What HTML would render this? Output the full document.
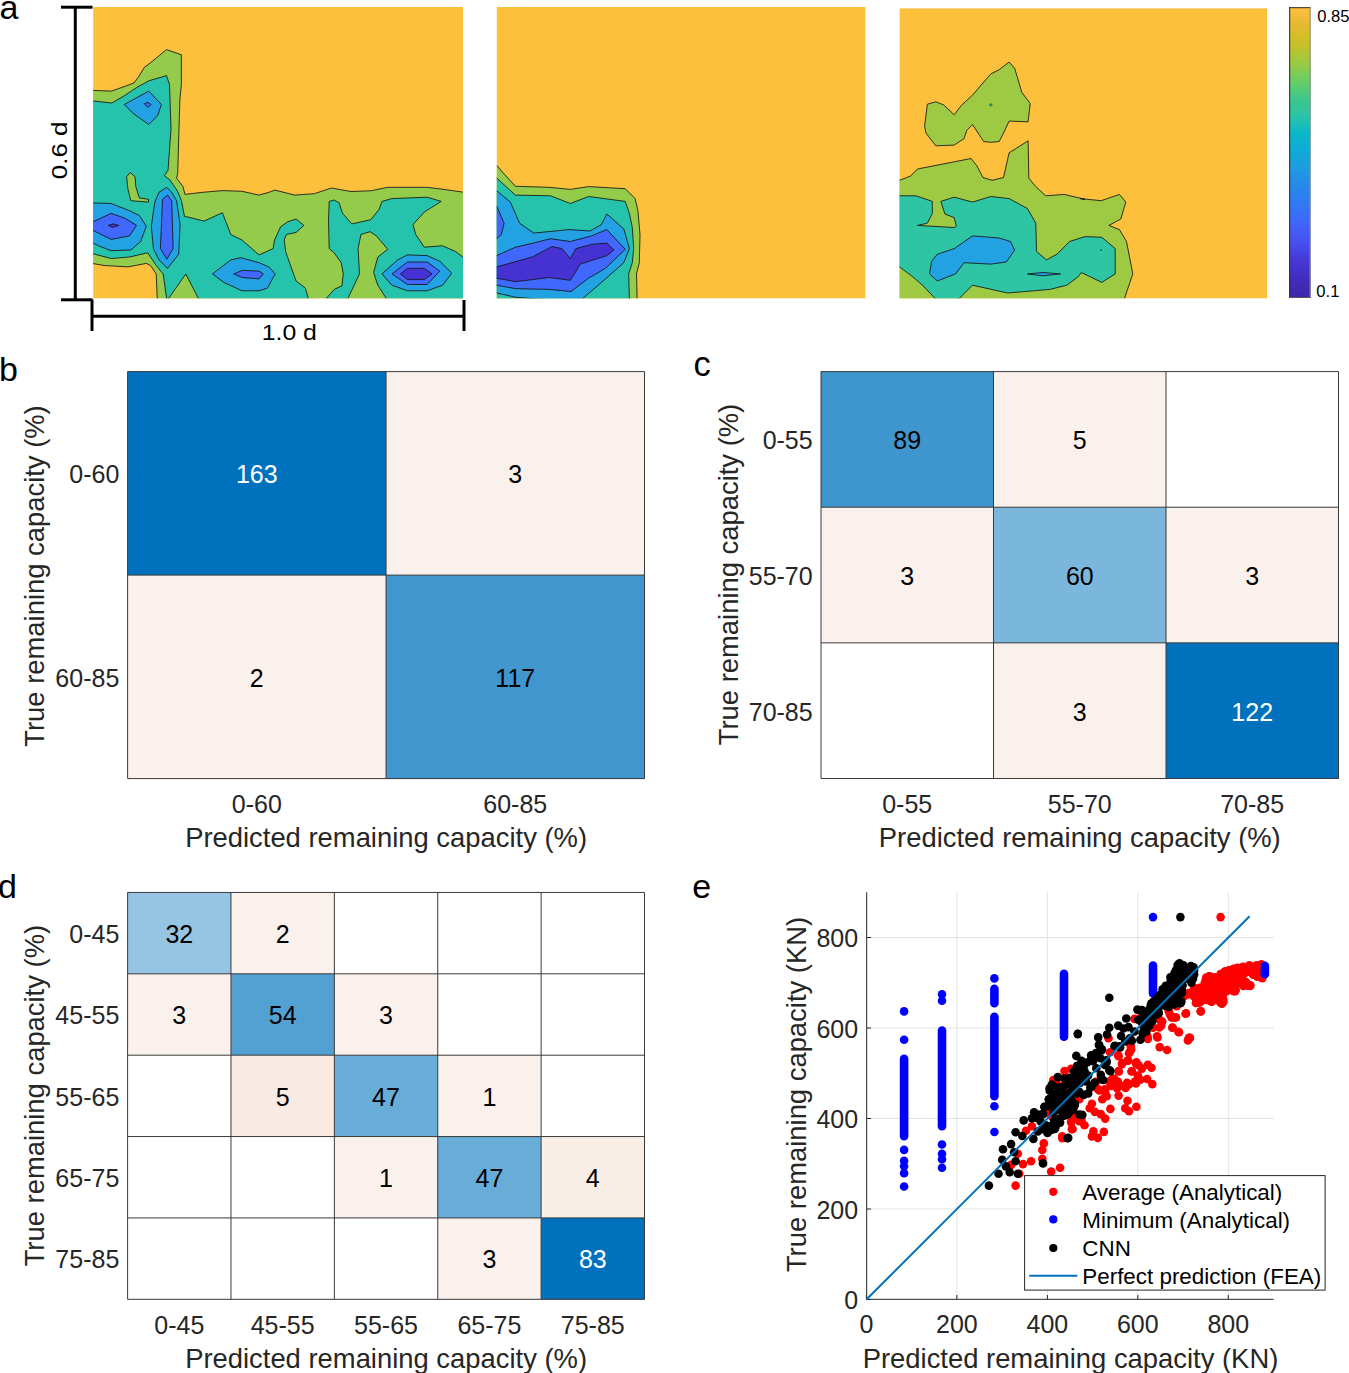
<!DOCTYPE html>
<html><head><meta charset="utf-8"><style>
html,body{margin:0;padding:0;background:#fff;}
svg{display:block;}
text{font-family:"Liberation Sans", sans-serif;}
</style></head><body>
<svg width="1349" height="1373" viewBox="0 0 1349 1373" font-family='"Liberation Sans", sans-serif'>
<rect width="1349" height="1373" fill="#fff"/>
<clipPath id="c1"><rect x="93.2" y="7.0" width="369.8" height="291.3"/></clipPath>
<rect x="93.2" y="7.0" width="369.8" height="291.3" fill="#fcc03c"/>
<g clip-path="url(#c1)">
<polygon points="92.0,90.4 111.7,91.1 133.9,83.0 138.4,77.1 144.3,67.4 150.2,63.0 166.5,49.6 181.4,54.8 181.4,84.5 179.9,99.3 177.7,173.4 176.6,178.2 183.0,186.6 185.0,194.4 202.7,192.3 222.4,190.6 242.1,191.3 259.0,195.1 268.9,192.3 275.0,190.1 294.7,195.1 314.4,193.7 331.3,188.0 351.0,191.5 370.8,190.8 387.7,187.3 427.1,187.3 444.0,189.4 464.0,192.3 464.0,300.0 157.3,300.0 156.2,274.0 150.6,265.5 146.3,263.4 128.0,266.9 104.0,265.5 92.0,263.4" fill="#94cb4a" stroke="#141414" stroke-width="0.85" stroke-linejoin="round" />
<polygon points="92.0,100.8 111.7,103.0 123.5,96.3 136.9,87.4 148.8,80.8 166.5,75.6 169.5,84.5 171.0,129.0 168.0,170.5 164.3,175.7 169.6,179.6 177.3,190.8 181.5,200.7 184.4,216.2 204.1,221.1 222.4,212.7 230.8,234.5 242.1,240.1 259.0,254.9 273.1,248.6 274.5,240.1 280.6,226.8 287.7,221.8 296.1,219.0 303.9,225.4 296.1,232.4 286.3,234.5 284.2,240.1 285.6,251.4 290.5,265.5 296.1,281.0 305.3,288.0 308.8,300.0 199.2,300.0 185.8,274.0 167.5,300.0 166.8,300.0 163.2,274.0 156.2,265.5 147.7,252.8 129.4,257.0 111.1,258.5 92.0,253.5" fill="#26c3ac" stroke="#141414" stroke-width="0.85" stroke-linejoin="round" />
<polygon points="126.6,176.8 130.1,172.5 135.1,176.8 135.8,186.6 139.3,197.9 148.5,199.3 148.5,202.1 130.8,200.7 128.0,189.4" fill="#94cb4a" stroke="#141414" stroke-width="0.85" stroke-linejoin="round" />
<polygon points="329.2,201.4 334.2,200.0 339.1,202.8 342.6,213.4 351.8,223.9 370.8,219.7 379.2,209.2 382.0,201.4 391.9,198.6 427.1,197.2 441.2,201.4 424.3,212.0 413.0,224.6 415.8,234.5 424.3,247.2 442.6,245.8 455.3,251.4 463.0,257.0 464.4,257.0 464.4,300.7 387.7,300.7 377.8,285.2 373.6,272.5 377.8,257.0 387.7,249.3 376.4,235.9 370.1,231.7 360.9,234.5 358.1,248.6 359.5,273.9 346.8,300.7 324.3,300.7 334.2,289.4 341.9,285.9 343.3,273.9 341.2,262.7 334.2,252.8 329.2,248.6 328.5,220.4" fill="#26c3ac" stroke="#141414" stroke-width="0.85" stroke-linejoin="round" />
<polygon points="90.0,202.8 111.1,203.5 129.4,210.6 139.3,215.5 146.3,226.1 140.7,241.5 130.8,250.0 111.1,250.7 98.5,245.8 90.0,241.5" fill="#22a2e3" stroke="#141414" stroke-width="0.85" stroke-linejoin="round" />
<polygon points="166.8,187.3 171.7,192.3 176.6,200.7 180.1,224.6 178.7,254.2 167.5,268.3 159.0,259.9 153.4,248.6 151.3,226.1 154.8,202.1 159.0,192.3" fill="#22a2e3" stroke="#141414" stroke-width="0.85" stroke-linejoin="round" />
<polygon points="212.5,273.9 230.8,259.9 240.7,257.7 259.0,262.7 268.9,266.9 275.2,273.9 267.5,288.0 259.0,290.8 242.1,290.8 223.8,282.4" fill="#22a2e3" stroke="#141414" stroke-width="0.85" stroke-linejoin="round" />
<polygon points="124.3,104.5 148.8,91.1 161.4,104.5 157.6,115.6 148.8,124.5 133.9,114.1" fill="#22a2e3" stroke="#141414" stroke-width="0.85" stroke-linejoin="round" />
<polygon points="382.0,273.9 397.5,259.9 407.4,254.9 427.1,255.6 439.8,261.3 451.8,273.2 442.6,285.2 427.1,290.8 407.4,290.8 391.9,285.2" fill="#22a2e3" stroke="#141414" stroke-width="0.85" stroke-linejoin="round" />
<polygon points="90.0,223.2 111.1,213.4 125.2,218.3 136.5,225.4 129.4,235.9 111.1,239.4 90.0,228.9" fill="#4068fc" stroke="#141414" stroke-width="0.85" stroke-linejoin="round" />
<polygon points="167.5,195.1 171.7,200.7 173.1,248.6 166.8,259.2 160.4,248.6 162.5,199.3" fill="#4068fc" stroke="#141414" stroke-width="0.85" stroke-linejoin="round" />
<polygon points="233.7,273.9 242.1,270.4 259.0,271.1 263.2,273.9 259.0,278.9 242.1,277.5" fill="#4068fc" stroke="#141414" stroke-width="0.85" stroke-linejoin="round" />
<polygon points="144.3,103.8 148.0,102.3 151.0,104.5 148.0,107.5" fill="#4068fc" stroke="#141414" stroke-width="0.85" stroke-linejoin="round" />
<polygon points="391.9,273.9 407.4,262.0 427.1,262.0 439.8,271.1 427.1,284.5 407.4,284.5" fill="#4068fc" stroke="#141414" stroke-width="0.85" stroke-linejoin="round" />
<polygon points="108.3,225.4 113.2,223.9 118.9,225.4 112.5,227.5" fill="#4632d2" stroke="#141414" stroke-width="0.85" stroke-linejoin="round" />
<polygon points="400.4,273.9 407.4,268.3 424.3,268.3 432.0,273.9 424.3,279.6 407.4,279.6" fill="#4632d2" stroke="#141414" stroke-width="0.85" stroke-linejoin="round" />
</g>
<clipPath id="c2"><rect x="496.8" y="7.0" width="368.59999999999997" height="291.3"/></clipPath>
<rect x="496.8" y="7.0" width="368.59999999999997" height="291.3" fill="#fcc03c"/>
<g clip-path="url(#c2)">
<polygon points="494.2,165.5 496.8,165.5 504.1,173.9 515.4,186.3 549.2,187.3 570.3,189.4 588.6,186.6 625.2,188.7 635.1,198.6 637.9,210.6 640.0,234.5 639.3,262.7 636.5,273.9 637.2,300.7 494.2,300.7" fill="#94cb4a" stroke="#141414" stroke-width="0.85" stroke-linejoin="round" />
<polygon points="494.2,178.2 496.8,178.2 515.4,195.1 550.6,195.8 570.3,203.5 588.6,196.5 625.2,201.4 629.4,213.4 632.3,227.5 633.7,248.6 632.3,262.7 628.7,273.9 629.4,300.7 494.2,300.7" fill="#26c3ac" stroke="#141414" stroke-width="0.85" stroke-linejoin="round" />
<polygon points="494.2,190.8 496.8,190.8 510.4,202.1 519.6,223.2 533.7,233.1 568.9,229.6 590.0,231.0 601.3,224.6 606.9,214.1 623.8,228.9 629.4,248.6 623.8,262.7 599.9,283.8 580.1,300.7 540.7,299.3 515.4,297.2 496.8,293.0 494.2,293.0" fill="#22a2e3" stroke="#141414" stroke-width="0.85" stroke-linejoin="round" />
<polygon points="494.2,255.6 496.8,255.6 515.4,247.2 533.7,243.0 550.6,238.7 570.3,241.5 591.4,235.9 606.9,229.6 625.2,249.3 605.5,268.3 588.6,278.2 571.0,291.5 549.2,289.4 515.4,288.7 496.8,285.2 494.2,285.2" fill="#4068fc" stroke="#141414" stroke-width="0.85" stroke-linejoin="round" />
<polygon points="494.2,206.3 496.8,206.3 504.1,223.2 501.3,234.5 496.8,238.7 494.2,238.7" fill="#4068fc" stroke="#141414" stroke-width="0.85" stroke-linejoin="round" />
<polygon points="494.2,266.9 496.8,266.9 532.3,257.0 552.0,246.5 561.8,248.6 570.3,258.5 575.9,248.6 591.4,244.4 606.9,243.0 613.9,250.0 606.9,255.6 580.1,264.1 574.5,273.9 570.3,280.3 549.2,277.5 515.4,281.7 496.8,278.2 494.2,278.2" fill="#4632d2" stroke="#141414" stroke-width="0.85" stroke-linejoin="round" />
</g>
<clipPath id="c3"><rect x="899.6" y="8.4" width="367.4" height="289.90000000000003"/></clipPath>
<rect x="899.6" y="8.4" width="367.4" height="289.90000000000003" fill="#fcc03c"/>
<g clip-path="url(#c3)">
<polygon points="927.4,104.2 935.8,101.8 943.6,104.9 954.2,114.8 961.2,105.6 972.5,95.1 990.8,73.9 999.2,69.7 1009.1,62.0 1014.7,68.3 1021.8,92.3 1030.2,103.5 1028.1,121.8 1009.1,121.1 1003.5,133.1 999.2,141.5 990.8,142.3 983.7,141.5 972.5,124.6 966.8,130.3 964.0,138.7 954.2,145.1 935.8,145.8 926.0,133.1 924.6,126.1" fill="#9dc943" stroke="#141414" stroke-width="0.85" stroke-linejoin="round" />
<circle cx="990.8" cy="104.9" r="1.2" fill="#2ec5a4" stroke="#1e1e1e" stroke-width="0.5"/>
<polygon points="895.0,180.3 899.6,180.3 910.5,176.1 917.5,169.0 971.1,158.5 976.7,165.5 983.0,177.5 992.2,180.3 1003.5,177.5 1009.1,152.8 1028.1,140.8 1028.8,178.2 1035.8,186.6 1045.7,195.8 1064.0,194.4 1085.0,199.3 1080.0,198.6 1101.1,200.7 1119.4,194.4 1125.8,202.1 1120.8,219.0 1108.9,225.4 1119.4,229.6 1126.5,241.5 1132.8,273.9 1123.7,300.7 890.0,300.0" fill="#9dc943" stroke="#141414" stroke-width="0.85" stroke-linejoin="round" />
<polygon points="895.0,195.8 899.6,195.8 916.1,195.8 932.3,201.4 932.3,213.4 927.4,223.2 917.5,225.4 954.2,227.5 956.3,226.1 954.2,217.6 945.0,214.1 940.8,201.4 954.2,197.2 972.5,202.1 990.8,196.5 1009.1,198.6 1027.4,208.5 1035.8,223.2 1036.5,251.4 1046.4,259.9 1057.0,254.2 1069.6,241.5 1085.0,236.6 1101.8,237.3 1115.2,248.6 1115.2,273.9 1101.8,282.4 1081.4,272.5 1078.1,276.8 1066.8,285.2 1049.9,289.4 1007.7,293.0 972.5,285.2 957.0,300.7 937.3,300.7 922.5,285.2 911.9,276.1 899.6,266.9 895.0,266.9" fill="#2ec5a4" stroke="#141414" stroke-width="0.85" stroke-linejoin="round" />
<polygon points="931.6,261.3 937.3,254.2 954.2,248.6 972.5,235.9 999.2,238.0 1010.5,241.5 1014.7,250.0 1006.3,262.0 990.8,264.1 964.0,262.7 955.6,273.9 937.3,281.0 929.5,273.9" fill="#22a2e3" stroke="#141414" stroke-width="0.85" stroke-linejoin="round" />
<polygon points="1027.4,273.9 1042.9,272.5 1060.5,273.9 1042.9,275.8" fill="#22a2e3" stroke="#141414" stroke-width="0.85" stroke-linejoin="round" />
<circle cx="1101.1" cy="250.3" r="0.8" fill="#1e1e1e"/>
</g>
<linearGradient id="cb" x1="0" y1="1" x2="0" y2="0"><stop offset="0.002" stop-color="#3e26a8"/><stop offset="0.064" stop-color="#412dbe"/><stop offset="0.129" stop-color="#4637d7"/><stop offset="0.191" stop-color="#4650f0"/><stop offset="0.253" stop-color="#4164fa"/><stop offset="0.316" stop-color="#3278f5"/><stop offset="0.381" stop-color="#2887eb"/><stop offset="0.443" stop-color="#1e9be1"/><stop offset="0.505" stop-color="#0faad7"/><stop offset="0.567" stop-color="#0ab9c8"/><stop offset="0.629" stop-color="#2dc3a5"/><stop offset="0.681" stop-color="#3cc88c"/><stop offset="0.733" stop-color="#5fcd6e"/><stop offset="0.767" stop-color="#78cd5a"/><stop offset="0.802" stop-color="#96ca46"/><stop offset="0.836" stop-color="#afc637"/><stop offset="0.871" stop-color="#c8c028"/><stop offset="0.905" stop-color="#d7be28"/><stop offset="0.940" stop-color="#e6b932"/><stop offset="0.974" stop-color="#f5bc3a"/><stop offset="1.000" stop-color="#fcc03c"/></linearGradient>
<rect x="1289.2" y="7.2" width="21.4" height="290.8" fill="url(#cb)"/>
<g stroke-width="1" fill="none"><line x1="1289.7" y1="7.2" x2="1289.7" y2="298" stroke="#2a2a2a"/><line x1="1289.2" y1="7.7" x2="1310.6" y2="7.7" stroke="#2a2a2a"/><line x1="1310.1" y1="7.2" x2="1310.1" y2="298" stroke="#8a8a8a"/><line x1="1289.2" y1="297.5" x2="1310.6" y2="297.5" stroke="#555"/></g>
<text x="1317.2" y="22.4" font-size="16.6" text-anchor="start" fill="#000" >0.85</text>
<text x="1316.3" y="296.6" font-size="16.6" text-anchor="start" fill="#000" >0.1</text>
<g stroke="#000" stroke-width="3" fill="none"><line x1="75.3" y1="7" x2="75.3" y2="300"/><line x1="61" y1="7.2" x2="92.5" y2="7.2"/><line x1="61" y1="299.8" x2="92.5" y2="299.8"/><line x1="92" y1="316.3" x2="464" y2="316.3"/><line x1="92" y1="299.5" x2="92" y2="331"/><line x1="464" y1="300" x2="464" y2="331"/></g>
<text x="289.3" y="340.0" font-size="22.3" text-anchor="middle" fill="#000" textLength="55.2" lengthAdjust="spacingAndGlyphs">1.0 d</text>
<text transform="translate(66.5,150.4) rotate(-90)" x="0" y="0" font-size="22.3" text-anchor="middle" textLength="57.6" lengthAdjust="spacingAndGlyphs">0.6 d</text>
<text x="-0.5" y="18.8" font-size="34" text-anchor="start" fill="#000" >a</text>
<text x="-1.1" y="380.7" font-size="34" text-anchor="start" fill="#000" >b</text>
<text x="693.5" y="376.2" font-size="34.5" text-anchor="start" fill="#000" >c</text>
<text x="-2.0" y="898.3" font-size="34" text-anchor="start" fill="#000" >d</text>
<text x="692.3" y="898.0" font-size="34" text-anchor="start" fill="#000" >e</text>
<rect x="127.60" y="371.60" width="258.75" height="203.80" fill="#0072bd"/>
<rect x="386.05" y="371.60" width="258.75" height="203.80" fill="#faf1ed"/>
<rect x="127.60" y="575.10" width="258.75" height="203.80" fill="#faf1ed"/>
<rect x="386.05" y="575.10" width="258.75" height="203.80" fill="#4296ce"/>
<g stroke="#3a3a3a" stroke-width="1"><line x1="127.60" y1="371.6" x2="127.60" y2="778.6"/><line x1="127.6" y1="371.60" x2="644.5" y2="371.60"/><line x1="386.05" y1="371.6" x2="386.05" y2="778.6"/><line x1="127.6" y1="575.10" x2="644.5" y2="575.10"/><line x1="644.50" y1="371.6" x2="644.50" y2="778.6"/><line x1="127.6" y1="778.60" x2="644.5" y2="778.60"/></g>
<text x="256.8" y="483.2" font-size="25" text-anchor="middle" fill="#ffffff" >163</text>
<text x="515.3" y="483.2" font-size="25" text-anchor="middle" fill="#000" >3</text>
<text x="256.8" y="686.6" font-size="25" text-anchor="middle" fill="#000" >2</text>
<text x="515.3" y="686.6" font-size="25" text-anchor="middle" fill="#000" >117</text>
<text x="119.3" y="483.2" font-size="25" text-anchor="end" fill="#262626" >0-60</text>
<text x="119.3" y="686.6" font-size="25" text-anchor="end" fill="#262626" >60-85</text>
<text x="256.8" y="813.0" font-size="25" text-anchor="middle" fill="#262626" >0-60</text>
<text x="515.3" y="813.0" font-size="25" text-anchor="middle" fill="#262626" >60-85</text>
<text x="386.1" y="847.2" font-size="27.4" text-anchor="middle" fill="#262626" >Predicted remaining capacity (%)</text>
<text transform="translate(44.2,576.0) rotate(-90)" x="0" y="0" font-size="27.4" text-anchor="middle" fill="#262626">True remaining capacity (%)</text>
<rect x="821.00" y="371.60" width="172.80" height="135.93" fill="#3f95cd"/>
<rect x="993.50" y="371.60" width="172.80" height="135.93" fill="#faf1ed"/>
<rect x="1166.00" y="371.60" width="172.80" height="135.93" fill="#ffffff"/>
<rect x="821.00" y="507.23" width="172.80" height="135.93" fill="#faf1ed"/>
<rect x="993.50" y="507.23" width="172.80" height="135.93" fill="#7bb6dd"/>
<rect x="1166.00" y="507.23" width="172.80" height="135.93" fill="#faf1ed"/>
<rect x="821.00" y="642.87" width="172.80" height="135.93" fill="#ffffff"/>
<rect x="993.50" y="642.87" width="172.80" height="135.93" fill="#faf1ed"/>
<rect x="1166.00" y="642.87" width="172.80" height="135.93" fill="#0072bd"/>
<g stroke="#3a3a3a" stroke-width="1"><line x1="821.00" y1="371.6" x2="821.00" y2="778.5"/><line x1="821.0" y1="371.60" x2="1338.5" y2="371.60"/><line x1="993.50" y1="371.6" x2="993.50" y2="778.5"/><line x1="821.0" y1="507.23" x2="1338.5" y2="507.23"/><line x1="1166.00" y1="371.6" x2="1166.00" y2="778.5"/><line x1="821.0" y1="642.87" x2="1338.5" y2="642.87"/><line x1="1338.50" y1="371.6" x2="1338.50" y2="778.5"/><line x1="821.0" y1="778.50" x2="1338.5" y2="778.50"/></g>
<text x="907.2" y="449.2" font-size="25" text-anchor="middle" fill="#000" >89</text>
<text x="1079.8" y="449.2" font-size="25" text-anchor="middle" fill="#000" >5</text>
<text x="907.2" y="584.8" font-size="25" text-anchor="middle" fill="#000" >3</text>
<text x="1079.8" y="584.8" font-size="25" text-anchor="middle" fill="#000" >60</text>
<text x="1252.2" y="584.8" font-size="25" text-anchor="middle" fill="#000" >3</text>
<text x="1079.8" y="720.5" font-size="25" text-anchor="middle" fill="#000" >3</text>
<text x="1252.2" y="720.5" font-size="25" text-anchor="middle" fill="#ffffff" >122</text>
<text x="812.7" y="449.2" font-size="25" text-anchor="end" fill="#262626" >0-55</text>
<text x="812.7" y="584.8" font-size="25" text-anchor="end" fill="#262626" >55-70</text>
<text x="812.7" y="720.5" font-size="25" text-anchor="end" fill="#262626" >70-85</text>
<text x="907.2" y="812.9" font-size="25" text-anchor="middle" fill="#262626" >0-55</text>
<text x="1079.8" y="812.9" font-size="25" text-anchor="middle" fill="#262626" >55-70</text>
<text x="1252.2" y="812.9" font-size="25" text-anchor="middle" fill="#262626" >70-85</text>
<text x="1079.8" y="847.1" font-size="27.4" text-anchor="middle" fill="#262626" >Predicted remaining capacity (%)</text>
<text transform="translate(738.4,574.5) rotate(-90)" x="0" y="0" font-size="27.4" text-anchor="middle" fill="#262626">True remaining capacity (%)</text>
<rect x="127.60" y="892.45" width="103.68" height="81.67" fill="#96c5e4"/>
<rect x="230.98" y="892.45" width="103.68" height="81.67" fill="#faf1ed"/>
<rect x="334.36" y="892.45" width="103.68" height="81.67" fill="#ffffff"/>
<rect x="437.74" y="892.45" width="103.68" height="81.67" fill="#ffffff"/>
<rect x="541.12" y="892.45" width="103.68" height="81.67" fill="#ffffff"/>
<rect x="127.60" y="973.82" width="103.68" height="81.67" fill="#faf1ed"/>
<rect x="230.98" y="973.82" width="103.68" height="81.67" fill="#53a0d2"/>
<rect x="334.36" y="973.82" width="103.68" height="81.67" fill="#faf1ed"/>
<rect x="437.74" y="973.82" width="103.68" height="81.67" fill="#ffffff"/>
<rect x="541.12" y="973.82" width="103.68" height="81.67" fill="#ffffff"/>
<rect x="127.60" y="1055.19" width="103.68" height="81.67" fill="#ffffff"/>
<rect x="230.98" y="1055.19" width="103.68" height="81.67" fill="#f9ebe4"/>
<rect x="334.36" y="1055.19" width="103.68" height="81.67" fill="#68acd8"/>
<rect x="437.74" y="1055.19" width="103.68" height="81.67" fill="#faf1ed"/>
<rect x="541.12" y="1055.19" width="103.68" height="81.67" fill="#ffffff"/>
<rect x="127.60" y="1136.56" width="103.68" height="81.67" fill="#ffffff"/>
<rect x="230.98" y="1136.56" width="103.68" height="81.67" fill="#ffffff"/>
<rect x="334.36" y="1136.56" width="103.68" height="81.67" fill="#faf1ed"/>
<rect x="437.74" y="1136.56" width="103.68" height="81.67" fill="#68acd8"/>
<rect x="541.12" y="1136.56" width="103.68" height="81.67" fill="#f8eee6"/>
<rect x="127.60" y="1217.93" width="103.68" height="81.67" fill="#ffffff"/>
<rect x="230.98" y="1217.93" width="103.68" height="81.67" fill="#ffffff"/>
<rect x="334.36" y="1217.93" width="103.68" height="81.67" fill="#ffffff"/>
<rect x="437.74" y="1217.93" width="103.68" height="81.67" fill="#faf1ed"/>
<rect x="541.12" y="1217.93" width="103.68" height="81.67" fill="#0072bd"/>
<g stroke="#3a3a3a" stroke-width="1"><line x1="127.60" y1="892.45" x2="127.60" y2="1299.3"/><line x1="127.6" y1="892.45" x2="644.5" y2="892.45"/><line x1="230.98" y1="892.45" x2="230.98" y2="1299.3"/><line x1="127.6" y1="973.82" x2="644.5" y2="973.82"/><line x1="334.36" y1="892.45" x2="334.36" y2="1299.3"/><line x1="127.6" y1="1055.19" x2="644.5" y2="1055.19"/><line x1="437.74" y1="892.45" x2="437.74" y2="1299.3"/><line x1="127.6" y1="1136.56" x2="644.5" y2="1136.56"/><line x1="541.12" y1="892.45" x2="541.12" y2="1299.3"/><line x1="127.6" y1="1217.93" x2="644.5" y2="1217.93"/><line x1="644.50" y1="892.45" x2="644.50" y2="1299.3"/><line x1="127.6" y1="1299.30" x2="644.5" y2="1299.30"/></g>
<text x="179.3" y="942.9" font-size="25" text-anchor="middle" fill="#000" >32</text>
<text x="282.7" y="942.9" font-size="25" text-anchor="middle" fill="#000" >2</text>
<text x="179.3" y="1024.3" font-size="25" text-anchor="middle" fill="#000" >3</text>
<text x="282.7" y="1024.3" font-size="25" text-anchor="middle" fill="#000" >54</text>
<text x="386.0" y="1024.3" font-size="25" text-anchor="middle" fill="#000" >3</text>
<text x="282.7" y="1105.7" font-size="25" text-anchor="middle" fill="#000" >5</text>
<text x="386.0" y="1105.7" font-size="25" text-anchor="middle" fill="#000" >47</text>
<text x="489.4" y="1105.7" font-size="25" text-anchor="middle" fill="#000" >1</text>
<text x="386.0" y="1187.0" font-size="25" text-anchor="middle" fill="#000" >1</text>
<text x="489.4" y="1187.0" font-size="25" text-anchor="middle" fill="#000" >47</text>
<text x="592.8" y="1187.0" font-size="25" text-anchor="middle" fill="#000" >4</text>
<text x="489.4" y="1268.4" font-size="25" text-anchor="middle" fill="#000" >3</text>
<text x="592.8" y="1268.4" font-size="25" text-anchor="middle" fill="#ffffff" >83</text>
<text x="119.3" y="942.9" font-size="25" text-anchor="end" fill="#262626" >0-45</text>
<text x="119.3" y="1024.3" font-size="25" text-anchor="end" fill="#262626" >45-55</text>
<text x="119.3" y="1105.7" font-size="25" text-anchor="end" fill="#262626" >55-65</text>
<text x="119.3" y="1187.0" font-size="25" text-anchor="end" fill="#262626" >65-75</text>
<text x="119.3" y="1268.4" font-size="25" text-anchor="end" fill="#262626" >75-85</text>
<text x="179.3" y="1333.7" font-size="25" text-anchor="middle" fill="#262626" >0-45</text>
<text x="282.7" y="1333.7" font-size="25" text-anchor="middle" fill="#262626" >45-55</text>
<text x="386.0" y="1333.7" font-size="25" text-anchor="middle" fill="#262626" >55-65</text>
<text x="489.4" y="1333.7" font-size="25" text-anchor="middle" fill="#262626" >65-75</text>
<text x="592.8" y="1333.7" font-size="25" text-anchor="middle" fill="#262626" >75-85</text>
<text x="386.1" y="1367.9" font-size="27.4" text-anchor="middle" fill="#262626" >Predicted remaining capacity (%)</text>
<text transform="translate(44.2,1095.6) rotate(-90)" x="0" y="0" font-size="27.4" text-anchor="middle" fill="#262626">True remaining capacity (%)</text>
<g stroke="#e3e3e3" stroke-width="1"><line x1="956.9" y1="892.2" x2="956.9" y2="1299.5"/><line x1="866.4" y1="1209.0" x2="1273.6" y2="1209.0"/><line x1="1047.4" y1="892.2" x2="1047.4" y2="1299.5"/><line x1="866.4" y1="1118.5" x2="1273.6" y2="1118.5"/><line x1="1137.8" y1="892.2" x2="1137.8" y2="1299.5"/><line x1="866.4" y1="1028.0" x2="1273.6" y2="1028.0"/><line x1="1228.3" y1="892.2" x2="1228.3" y2="1299.5"/><line x1="866.4" y1="937.5" x2="1273.6" y2="937.5"/></g>
<g stroke="#262626" stroke-width="1" fill="none"><line x1="866.7" y1="892.2" x2="866.7" y2="1299.8"/><line x1="866.2" y1="1299.3" x2="1273.6" y2="1299.3"/><line x1="866.4" y1="1299.3" x2="866.4" y2="1295"/><line x1="956.9" y1="1299.3" x2="956.9" y2="1295"/><line x1="1047.4" y1="1299.3" x2="1047.4" y2="1295"/><line x1="1137.8" y1="1299.3" x2="1137.8" y2="1295"/><line x1="1228.3" y1="1299.3" x2="1228.3" y2="1295"/><line x1="866.7" y1="1299.5" x2="871" y2="1299.5"/><line x1="866.7" y1="1209.0" x2="871" y2="1209.0"/><line x1="866.7" y1="1118.5" x2="871" y2="1118.5"/><line x1="866.7" y1="1028.0" x2="871" y2="1028.0"/><line x1="866.7" y1="937.5" x2="871" y2="937.5"/></g>
<text x="858.2" y="1309.1" font-size="25" text-anchor="end" fill="#262626" >0</text>
<text x="866.4" y="1332.6" font-size="25" text-anchor="middle" fill="#262626" >0</text>
<text x="858.2" y="1218.6" font-size="25" text-anchor="end" fill="#262626" >200</text>
<text x="956.9" y="1332.6" font-size="25" text-anchor="middle" fill="#262626" >200</text>
<text x="858.2" y="1128.1" font-size="25" text-anchor="end" fill="#262626" >400</text>
<text x="1047.4" y="1332.6" font-size="25" text-anchor="middle" fill="#262626" >400</text>
<text x="858.2" y="1037.6" font-size="25" text-anchor="end" fill="#262626" >600</text>
<text x="1137.8" y="1332.6" font-size="25" text-anchor="middle" fill="#262626" >600</text>
<text x="858.2" y="947.1" font-size="25" text-anchor="end" fill="#262626" >800</text>
<text x="1228.3" y="1332.6" font-size="25" text-anchor="middle" fill="#262626" >800</text>
<text x="1070.5" y="1367.5" font-size="27.4" text-anchor="middle" fill="#262626" >Predicted remaining capacity (KN)</text>
<text transform="translate(805.5,1094.5) rotate(-90)" x="0" y="0" font-size="27.4" text-anchor="middle" fill="#262626">True remaining capacity (KN)</text>
<mask id="m1"><polygon points="1203.0,975.6 1208.2,972.6 1214.1,973.4 1223.0,968.2 1232.7,965.2 1240.0,965.2 1240.0,984.5 1238.6,991.1 1234.9,994.1 1227.5,994.9 1226.7,1003.8 1221.5,1006.7 1217.1,1002.3 1211.9,1005.2 1204.5,1002.3 1199.3,1006.7 1193.4,1003.8 1191.9,997.8 1184.5,997.8 1180.0,997.1 1186.0,990.4 1191.9,986.0 1197.8,984.5 1201.5,981.5" fill="#fff" stroke="#000" stroke-width="8.2" stroke-linejoin="round"/></mask>
<polygon points="1203.0,975.6 1208.2,972.6 1214.1,973.4 1223.0,968.2 1232.7,965.2 1240.0,965.2 1240.0,984.5 1238.6,991.1 1234.9,994.1 1227.5,994.9 1226.7,1003.8 1221.5,1006.7 1217.1,1002.3 1211.9,1005.2 1204.5,1002.3 1199.3,1006.7 1193.4,1003.8 1191.9,997.8 1184.5,997.8 1180.0,997.1 1186.0,990.4 1191.9,986.0 1197.8,984.5 1201.5,981.5" fill="#ff0000" mask="url(#m1)"/>
<mask id="m2"><polygon points="1203.3,975.6 1208.5,972.6 1215.9,974.1 1223.4,968.2 1230.8,965.9 1241.9,963.0 1249.3,961.5 1256.7,961.5 1264.1,961.5 1265.6,980.0 1261.2,981.5 1255.2,980.0 1253.0,978.5 1249.3,980.0 1253.8,984.5 1253.0,988.2 1247.8,989.7 1241.9,988.2 1238.9,984.5 1238.9,991.9 1234.5,994.9 1227.1,994.9 1226.3,999.3 1225.6,1005.2 1221.9,1007.5 1217.4,1005.2 1215.2,1002.3 1212.2,1005.2 1207.0,1003.8 1201.1,1005.2 1194.4,1005.2 1193.0,999.3 1190.0,997.8 1190.0,988.9 1194.4,984.5 1200.4,986.0 1201.1,981.5" fill="#fff" stroke="#000" stroke-width="8.2" stroke-linejoin="round"/></mask>
<polygon points="1203.3,975.6 1208.5,972.6 1215.9,974.1 1223.4,968.2 1230.8,965.9 1241.9,963.0 1249.3,961.5 1256.7,961.5 1264.1,961.5 1265.6,980.0 1261.2,981.5 1255.2,980.0 1253.0,978.5 1249.3,980.0 1253.8,984.5 1253.0,988.2 1247.8,989.7 1241.9,988.2 1238.9,984.5 1238.9,991.9 1234.5,994.9 1227.1,994.9 1226.3,999.3 1225.6,1005.2 1221.9,1007.5 1217.4,1005.2 1215.2,1002.3 1212.2,1005.2 1207.0,1003.8 1201.1,1005.2 1194.4,1005.2 1193.0,999.3 1190.0,997.8 1190.0,988.9 1194.4,984.5 1200.4,986.0 1201.1,981.5" fill="#ff0000" mask="url(#m2)"/>
<g fill="#ff0000"><circle cx="1031.9" cy="1126.3" r="4.3"/><circle cx="1026.0" cy="1130.8" r="4.3"/><circle cx="1048.2" cy="1113.0" r="4.3"/><circle cx="1051.9" cy="1116.7" r="4.3"/><circle cx="1071.2" cy="1122.6" r="4.3"/><circle cx="1071.9" cy="1129.3" r="4.3"/><circle cx="1062.3" cy="1138.2" r="4.3"/><circle cx="1075.6" cy="1115.2" r="4.3"/><circle cx="1079.3" cy="1121.1" r="4.3"/><circle cx="1043.8" cy="1143.4" r="4.3"/><circle cx="1042.3" cy="1150.0" r="4.3"/><circle cx="1042.3" cy="1158.9" r="4.3"/><circle cx="1017.8" cy="1153.8" r="4.3"/><circle cx="1011.1" cy="1164.9" r="4.3"/><circle cx="1023.0" cy="1164.1" r="4.3"/><circle cx="1031.1" cy="1161.2" r="4.3"/><circle cx="1019.3" cy="1173.8" r="4.3"/><circle cx="1051.2" cy="1171.5" r="4.3"/><circle cx="1060.1" cy="1167.8" r="4.3"/><circle cx="1015.6" cy="1185.6" r="4.3"/><circle cx="1053.4" cy="1189.3" r="4.3"/><circle cx="1064.5" cy="1071.1" r="4.3"/><circle cx="1071.1" cy="1068.9" r="4.3"/><circle cx="1053.3" cy="1080.0" r="4.3"/><circle cx="1057.0" cy="1083.7" r="4.3"/><circle cx="1068.2" cy="1088.2" r="4.3"/><circle cx="1048.2" cy="1105.2" r="4.3"/><circle cx="1049.6" cy="1113.4" r="4.3"/><circle cx="1079.3" cy="1099.3" r="4.3"/><circle cx="1118.6" cy="1056.3" r="4.3"/><circle cx="1122.3" cy="1063.0" r="4.3"/><circle cx="1128.2" cy="1060.8" r="4.3"/><circle cx="1131.2" cy="1049.6" r="4.3"/><circle cx="1129.0" cy="1053.3" r="4.3"/><circle cx="1136.4" cy="1062.2" r="4.3"/><circle cx="1131.9" cy="1071.1" r="4.3"/><circle cx="1118.6" cy="1071.1" r="4.3"/><circle cx="1114.1" cy="1078.5" r="4.3"/><circle cx="1108.9" cy="1081.5" r="4.3"/><circle cx="1117.8" cy="1081.5" r="4.3"/><circle cx="1122.3" cy="1086.0" r="4.3"/><circle cx="1129.0" cy="1084.5" r="4.3"/><circle cx="1134.9" cy="1081.5" r="4.3"/><circle cx="1137.9" cy="1075.6" r="4.3"/><circle cx="1138.6" cy="1065.2" r="4.3"/><circle cx="1111.2" cy="1086.0" r="4.3"/><circle cx="1117.1" cy="1088.2" r="4.3"/><circle cx="1118.6" cy="1095.6" r="4.3"/><circle cx="1105.2" cy="1091.9" r="4.3"/><circle cx="1099.3" cy="1090.4" r="4.3"/><circle cx="1096.3" cy="1081.5" r="4.3"/><circle cx="1102.3" cy="1099.3" r="4.3"/><circle cx="1106.7" cy="1096.3" r="4.3"/><circle cx="1091.9" cy="1103.8" r="4.3"/><circle cx="1089.7" cy="1108.2" r="4.3"/><circle cx="1094.9" cy="1111.9" r="4.3"/><circle cx="1100.8" cy="1114.1" r="4.3"/><circle cx="1105.2" cy="1118.6" r="4.3"/><circle cx="1110.4" cy="1108.9" r="4.3"/><circle cx="1127.5" cy="1100.8" r="4.3"/><circle cx="1129.0" cy="1111.2" r="4.3"/><circle cx="1136.4" cy="1106.7" r="4.3"/><circle cx="1125.2" cy="1108.2" r="4.3"/><circle cx="1071.1" cy="1121.5" r="4.3"/><circle cx="1072.6" cy="1129.0" r="4.3"/><circle cx="1081.5" cy="1120.1" r="4.3"/><circle cx="1084.5" cy="1125.2" r="4.3"/><circle cx="1093.4" cy="1131.2" r="4.3"/><circle cx="1103.8" cy="1131.9" r="4.3"/><circle cx="1091.9" cy="1136.4" r="4.3"/><circle cx="1097.8" cy="1137.9" r="4.3"/><circle cx="1062.2" cy="1136.4" r="4.3"/><circle cx="1075.6" cy="1115.6" r="4.3"/><circle cx="1134.5" cy="1018.9" r="4.3"/><circle cx="1141.9" cy="1014.5" r="4.3"/><circle cx="1108.5" cy="1038.2" r="4.3"/><circle cx="1110.0" cy="1052.3" r="4.3"/><circle cx="1118.2" cy="1055.2" r="4.3"/><circle cx="1127.8" cy="1060.4" r="4.3"/><circle cx="1130.8" cy="1046.3" r="4.3"/><circle cx="1130.0" cy="1051.5" r="4.3"/><circle cx="1121.9" cy="1064.1" r="4.3"/><circle cx="1136.0" cy="1063.4" r="4.3"/><circle cx="1147.8" cy="1064.9" r="4.3"/><circle cx="1151.5" cy="1067.8" r="4.3"/><circle cx="1131.5" cy="1071.5" r="4.3"/><circle cx="1141.9" cy="1068.6" r="4.3"/><circle cx="1147.1" cy="1079.0" r="4.3"/><circle cx="1152.3" cy="1084.1" r="4.3"/><circle cx="1140.4" cy="1079.7" r="4.3"/><circle cx="1127.1" cy="1082.7" r="4.3"/><circle cx="1118.9" cy="1071.5" r="4.3"/><circle cx="1112.2" cy="1079.0" r="4.3"/><circle cx="1117.4" cy="1086.4" r="4.3"/><circle cx="1097.4" cy="1088.6" r="4.3"/><circle cx="1104.8" cy="1089.3" r="4.3"/><circle cx="1125.6" cy="1087.9" r="4.3"/><circle cx="1136.0" cy="1083.4" r="4.3"/><circle cx="1147.8" cy="1038.9" r="4.3"/><circle cx="1157.5" cy="1037.4" r="4.3"/><circle cx="1159.7" cy="1047.1" r="4.3"/><circle cx="1167.1" cy="1050.0" r="4.3"/><circle cx="1179.0" cy="1032.3" r="4.3"/><circle cx="1187.9" cy="1040.4" r="4.3"/><circle cx="1185.6" cy="1013.7" r="4.3"/><circle cx="1171.5" cy="1017.4" r="4.3"/><circle cx="1176.0" cy="1017.4" r="4.3"/><circle cx="1172.3" cy="1027.8" r="4.3"/><circle cx="1161.2" cy="1025.6" r="4.3"/><circle cx="1159.7" cy="1019.7" r="4.3"/><circle cx="1168.6" cy="1010.8" r="4.3"/><circle cx="1176.7" cy="1006.3" r="4.3"/><circle cx="1186.4" cy="994.4" r="4.3"/><circle cx="1153.0" cy="1027.8" r="4.3"/><circle cx="1200.8" cy="1011.2" r="4.3"/><circle cx="1186.0" cy="1013.4" r="4.3"/><circle cx="1178.5" cy="1031.9" r="4.3"/><circle cx="1188.9" cy="1037.9" r="4.3"/><circle cx="1157.0" cy="1036.4" r="4.3"/><circle cx="1172.6" cy="1027.5" r="4.3"/><circle cx="1174.1" cy="1017.8" r="4.3"/><circle cx="1169.7" cy="1014.1" r="4.3"/><circle cx="1162.2" cy="1021.5" r="4.3"/><circle cx="1159.3" cy="1027.5" r="4.3"/><circle cx="1147.4" cy="1036.4" r="4.3"/><circle cx="1200.7" cy="1011.5" r="4.3"/><circle cx="1195.9" cy="1003.0" r="4.3"/><circle cx="1222.6" cy="1002.3" r="4.3"/><circle cx="1211.5" cy="1001.5" r="4.3"/><circle cx="1235.2" cy="991.1" r="4.3"/><circle cx="1243.4" cy="986.0" r="4.3"/><circle cx="1250.0" cy="986.0" r="4.3"/><circle cx="1190.0" cy="1037.9" r="4.3"/><circle cx="1220.6" cy="917.1" r="4.3"/><circle cx="1206.4" cy="977.5" r="4.3"/><circle cx="1209.2" cy="976.4" r="4.3"/><circle cx="1214.1" cy="977.2" r="4.3"/><circle cx="1220.5" cy="974.1" r="4.3"/><circle cx="1225.0" cy="971.5" r="4.3"/><circle cx="1228.8" cy="970.4" r="4.3"/><circle cx="1233.7" cy="968.9" r="4.3"/><circle cx="1237.3" cy="967.9" r="4.3"/><circle cx="1236.1" cy="970.0" r="4.3"/><circle cx="1236.1" cy="974.8" r="4.3"/><circle cx="1236.1" cy="979.7" r="4.3"/><circle cx="1236.1" cy="984.5" r="4.3"/><circle cx="1235.2" cy="989.2" r="4.3"/><circle cx="1233.9" cy="990.4" r="4.3"/><circle cx="1224.1" cy="992.9" r="4.3"/><circle cx="1223.2" cy="999.3" r="4.3"/><circle cx="1223.4" cy="1001.8" r="4.3"/><circle cx="1222.5" cy="1003.0" r="4.3"/><circle cx="1217.1" cy="998.4" r="4.3"/><circle cx="1211.9" cy="1001.4" r="4.3"/><circle cx="1204.5" cy="998.4" r="4.3"/><circle cx="1199.3" cy="1002.8" r="4.3"/><circle cx="1196.1" cy="1001.0" r="4.3"/><circle cx="1191.9" cy="994.0" r="4.3"/><circle cx="1186.4" cy="994.5" r="4.3"/><circle cx="1183.8" cy="996.1" r="4.3"/><circle cx="1186.7" cy="994.7" r="4.3"/><circle cx="1188.7" cy="993.1" r="4.3"/><circle cx="1193.8" cy="989.3" r="4.3"/><circle cx="1199.8" cy="987.8" r="4.3"/><circle cx="1204.9" cy="983.4" r="4.3"/><circle cx="1206.1" cy="978.3" r="4.3"/><circle cx="1209.5" cy="976.4" r="4.3"/><circle cx="1215.9" cy="978.0" r="4.3"/><circle cx="1222.4" cy="973.9" r="4.3"/><circle cx="1225.3" cy="971.5" r="4.3"/><circle cx="1231.8" cy="969.7" r="4.3"/><circle cx="1237.3" cy="968.2" r="4.3"/><circle cx="1242.9" cy="966.7" r="4.3"/><circle cx="1249.3" cy="965.4" r="4.3"/><circle cx="1256.7" cy="965.4" r="4.3"/><circle cx="1261.4" cy="964.2" r="4.3"/><circle cx="1260.6" cy="966.1" r="4.3"/><circle cx="1261.0" cy="970.8" r="4.3"/><circle cx="1261.4" cy="975.4" r="4.3"/><circle cx="1262.3" cy="978.1" r="4.3"/><circle cx="1261.2" cy="977.6" r="4.3"/><circle cx="1257.2" cy="976.7" r="4.3"/><circle cx="1253.0" cy="974.7" r="4.3"/><circle cx="1246.0" cy="982.0" r="4.3"/><circle cx="1250.0" cy="985.5" r="4.3"/><circle cx="1250.3" cy="985.4" r="4.3"/><circle cx="1247.8" cy="985.8" r="4.3"/><circle cx="1243.8" cy="984.8" r="4.3"/><circle cx="1238.9" cy="980.6" r="4.3"/><circle cx="1235.6" cy="990.0" r="4.3"/><circle cx="1233.5" cy="991.1" r="4.3"/><circle cx="1227.1" cy="991.0" r="4.3"/><circle cx="1222.6" cy="998.3" r="4.3"/><circle cx="1222.2" cy="1003.3" r="4.3"/><circle cx="1221.9" cy="1003.6" r="4.3"/><circle cx="1220.2" cy="1002.5" r="4.3"/><circle cx="1215.2" cy="998.4" r="4.3"/><circle cx="1211.2" cy="1001.5" r="4.3"/><circle cx="1207.0" cy="999.9" r="4.3"/><circle cx="1201.1" cy="1001.4" r="4.3"/><circle cx="1197.2" cy="1002.5" r="4.3"/><circle cx="1194.9" cy="996.0" r="4.3"/><circle cx="1193.4" cy="995.9" r="4.3"/><circle cx="1193.9" cy="993.4" r="4.3"/><circle cx="1193.7" cy="989.9" r="4.3"/><circle cx="1195.4" cy="988.2" r="4.3"/><circle cx="1200.4" cy="989.8" r="4.3"/><circle cx="1204.9" cy="982.5" r="4.3"/></g>
<line x1="904.1" y1="1058.8" x2="904.1" y2="1136.3" stroke="#0000ff" stroke-width="8.6" stroke-linecap="round"/>
<g fill="#0000ff"><circle cx="904.1" cy="1011.4" r="4.3"/><circle cx="904.1" cy="1039.8" r="4.3"/><circle cx="904.1" cy="1149.9" r="4.3"/><circle cx="904.1" cy="1160.8" r="4.3"/><circle cx="904.1" cy="1166.3" r="4.3"/><circle cx="904.1" cy="1173.3" r="4.3"/><circle cx="904.1" cy="1186.5" r="4.3"/></g>
<line x1="942.0" y1="1030.5" x2="942.0" y2="1126.2" stroke="#0000ff" stroke-width="8.6" stroke-linecap="round"/>
<g fill="#0000ff"><circle cx="942.0" cy="994.3" r="4.3"/><circle cx="942.0" cy="1000.8" r="4.3"/><circle cx="942.0" cy="1144.5" r="4.3"/><circle cx="942.0" cy="1153.8" r="4.3"/><circle cx="942.0" cy="1159.3" r="4.3"/><circle cx="942.0" cy="1167.8" r="4.3"/></g>
<line x1="994.4" y1="988.8" x2="994.4" y2="1003.3" stroke="#0000ff" stroke-width="8.6" stroke-linecap="round"/>
<line x1="994.4" y1="1016.8" x2="994.4" y2="1096.2" stroke="#0000ff" stroke-width="8.6" stroke-linecap="round"/>
<g fill="#0000ff"><circle cx="994.4" cy="978.4" r="4.3"/><circle cx="994.4" cy="1106.3" r="4.3"/><circle cx="994.4" cy="1132.0" r="4.3"/></g>
<line x1="1064.0" y1="973.8" x2="1064.0" y2="1036.7" stroke="#0000ff" stroke-width="8.6" stroke-linecap="round"/>
<line x1="1153.0" y1="965.5" x2="1153.0" y2="993.5" stroke="#0000ff" stroke-width="8.6" stroke-linecap="round"/>
<line x1="1264.9" y1="965.8" x2="1264.9" y2="974.2" stroke="#0000ff" stroke-width="8.6" stroke-linecap="round"/>
<g fill="#0000ff"><circle cx="1153.0" cy="917.1" r="4.3"/></g>
<mask id="m3"><polygon points="1174.8,962.2 1178.5,959.6 1184.5,961.5 1191.9,962.2 1196.3,964.5 1197.8,969.7 1197.8,975.6 1196.3,980.8 1193.4,986.0 1186.0,987.4 1185.2,991.9 1181.5,994.9 1185.2,1001.5 1183.7,1005.2 1174.8,1008.2 1166.7,1009.7 1161.5,1011.2 1162.2,1014.9 1156.3,1018.6 1153.3,1024.5 1148.9,1028.2 1149.6,1031.9 1145.9,1034.9 1140.0,1036.4 1140.0,1006.7 1145.9,1009.7 1147.4,1003.0 1151.1,998.6 1156.3,993.4 1159.3,987.4 1163.0,983.0 1167.4,978.5 1166.7,976.3 1171.1,971.1 1172.6,968.2" fill="#fff" stroke="#000" stroke-width="8.2" stroke-linejoin="round"/></mask>
<polygon points="1174.8,962.2 1178.5,959.6 1184.5,961.5 1191.9,962.2 1196.3,964.5 1197.8,969.7 1197.8,975.6 1196.3,980.8 1193.4,986.0 1186.0,987.4 1185.2,991.9 1181.5,994.9 1185.2,1001.5 1183.7,1005.2 1174.8,1008.2 1166.7,1009.7 1161.5,1011.2 1162.2,1014.9 1156.3,1018.6 1153.3,1024.5 1148.9,1028.2 1149.6,1031.9 1145.9,1034.9 1140.0,1036.4 1140.0,1006.7 1145.9,1009.7 1147.4,1003.0 1151.1,998.6 1156.3,993.4 1159.3,987.4 1163.0,983.0 1167.4,978.5 1166.7,976.3 1171.1,971.1 1172.6,968.2" fill="#000" mask="url(#m3)"/>
<g fill="#000"><circle cx="1077.8" cy="1034.1" r="4.3"/><circle cx="1077.9" cy="1033.7" r="4.3"/><circle cx="1049.7" cy="1090.7" r="4.3"/><circle cx="1054.1" cy="1094.4" r="4.3"/><circle cx="1048.9" cy="1099.6" r="4.3"/><circle cx="1054.1" cy="1100.4" r="4.3"/><circle cx="1060.1" cy="1097.4" r="4.3"/><circle cx="1065.2" cy="1094.4" r="4.3"/><circle cx="1071.2" cy="1091.5" r="4.3"/><circle cx="1076.4" cy="1093.7" r="4.3"/><circle cx="1044.5" cy="1107.0" r="4.3"/><circle cx="1050.4" cy="1106.3" r="4.3"/><circle cx="1056.4" cy="1107.0" r="4.3"/><circle cx="1061.5" cy="1108.5" r="4.3"/><circle cx="1067.5" cy="1106.3" r="4.3"/><circle cx="1074.9" cy="1104.1" r="4.3"/><circle cx="1073.4" cy="1108.5" r="4.3"/><circle cx="1079.3" cy="1114.5" r="4.3"/><circle cx="1034.1" cy="1112.2" r="4.3"/><circle cx="1040.0" cy="1114.5" r="4.3"/><circle cx="1037.8" cy="1118.2" r="4.3"/><circle cx="1031.9" cy="1118.2" r="4.3"/><circle cx="1023.7" cy="1120.4" r="4.3"/><circle cx="1054.1" cy="1121.1" r="4.3"/><circle cx="1060.1" cy="1122.6" r="4.3"/><circle cx="1065.2" cy="1115.2" r="4.3"/><circle cx="1069.0" cy="1112.2" r="4.3"/><circle cx="1063.0" cy="1112.2" r="4.3"/><circle cx="1046.7" cy="1126.3" r="4.3"/><circle cx="1051.2" cy="1130.0" r="4.3"/><circle cx="1055.6" cy="1127.1" r="4.3"/><circle cx="1042.3" cy="1129.3" r="4.3"/><circle cx="1037.8" cy="1131.5" r="4.3"/><circle cx="1047.5" cy="1133.0" r="4.3"/><circle cx="1033.4" cy="1138.9" r="4.3"/><circle cx="1015.6" cy="1132.3" r="4.3"/><circle cx="1022.3" cy="1136.0" r="4.3"/><circle cx="1067.5" cy="1138.2" r="4.3"/><circle cx="1011.1" cy="1144.1" r="4.3"/><circle cx="1003.0" cy="1149.3" r="4.3"/><circle cx="1014.1" cy="1152.3" r="4.3"/><circle cx="1002.2" cy="1159.7" r="4.3"/><circle cx="1015.6" cy="1161.2" r="4.3"/><circle cx="1005.9" cy="1166.4" r="4.3"/><circle cx="998.5" cy="1173.8" r="4.3"/><circle cx="1009.7" cy="1172.3" r="4.3"/><circle cx="1017.8" cy="1173.8" r="4.3"/><circle cx="1043.0" cy="1163.4" r="4.3"/><circle cx="988.9" cy="1185.6" r="4.3"/><circle cx="1076.3" cy="1055.9" r="4.3"/><circle cx="1081.5" cy="1060.8" r="4.3"/><circle cx="1091.1" cy="1055.6" r="4.3"/><circle cx="1096.3" cy="1054.8" r="4.3"/><circle cx="1099.3" cy="1045.2" r="4.3"/><circle cx="1101.5" cy="1050.4" r="4.3"/><circle cx="1114.9" cy="1045.9" r="4.3"/><circle cx="1120.1" cy="1047.4" r="4.3"/><circle cx="1125.2" cy="1041.5" r="4.3"/><circle cx="1131.9" cy="1040.7" r="4.3"/><circle cx="1106.7" cy="1062.2" r="4.3"/><circle cx="1110.4" cy="1071.1" r="4.3"/><circle cx="1103.0" cy="1080.0" r="4.3"/><circle cx="1100.8" cy="1074.8" r="4.3"/><circle cx="1096.3" cy="1068.2" r="4.3"/><circle cx="1087.4" cy="1062.2" r="4.3"/><circle cx="1083.7" cy="1065.9" r="4.3"/><circle cx="1077.1" cy="1065.9" r="4.3"/><circle cx="1074.1" cy="1071.1" r="4.3"/><circle cx="1079.3" cy="1071.9" r="4.3"/><circle cx="1084.5" cy="1071.1" r="4.3"/><circle cx="1088.2" cy="1075.6" r="4.3"/><circle cx="1081.5" cy="1077.1" r="4.3"/><circle cx="1075.6" cy="1078.5" r="4.3"/><circle cx="1069.7" cy="1077.8" r="4.3"/><circle cx="1064.5" cy="1078.5" r="4.3"/><circle cx="1057.8" cy="1077.1" r="4.3"/><circle cx="1051.9" cy="1084.5" r="4.3"/><circle cx="1049.6" cy="1088.2" r="4.3"/><circle cx="1057.8" cy="1087.4" r="4.3"/><circle cx="1063.7" cy="1086.0" r="4.3"/><circle cx="1069.7" cy="1084.5" r="4.3"/><circle cx="1074.8" cy="1084.5" r="4.3"/><circle cx="1080.0" cy="1083.0" r="4.3"/><circle cx="1086.0" cy="1081.5" r="4.3"/><circle cx="1090.4" cy="1087.4" r="4.3"/><circle cx="1088.2" cy="1093.4" r="4.3"/><circle cx="1083.7" cy="1094.9" r="4.3"/><circle cx="1079.3" cy="1091.9" r="4.3"/><circle cx="1074.1" cy="1090.4" r="4.3"/><circle cx="1071.1" cy="1093.4" r="4.3"/><circle cx="1068.2" cy="1096.3" r="4.3"/><circle cx="1063.7" cy="1092.6" r="4.3"/><circle cx="1058.5" cy="1093.4" r="4.3"/><circle cx="1054.8" cy="1096.3" r="4.3"/><circle cx="1048.9" cy="1099.3" r="4.3"/><circle cx="1044.4" cy="1106.7" r="4.3"/><circle cx="1051.1" cy="1104.5" r="4.3"/><circle cx="1057.0" cy="1103.0" r="4.3"/><circle cx="1062.2" cy="1101.5" r="4.3"/><circle cx="1066.7" cy="1101.5" r="4.3"/><circle cx="1071.9" cy="1100.8" r="4.3"/><circle cx="1074.8" cy="1105.2" r="4.3"/><circle cx="1072.6" cy="1109.7" r="4.3"/><circle cx="1068.2" cy="1111.2" r="4.3"/><circle cx="1063.0" cy="1111.2" r="4.3"/><circle cx="1057.8" cy="1109.7" r="4.3"/><circle cx="1053.3" cy="1112.6" r="4.3"/><circle cx="1043.0" cy="1114.1" r="4.3"/><circle cx="1040.7" cy="1121.5" r="4.3"/><circle cx="1045.9" cy="1125.2" r="4.3"/><circle cx="1051.1" cy="1126.0" r="4.3"/><circle cx="1054.8" cy="1121.5" r="4.3"/><circle cx="1059.3" cy="1118.6" r="4.3"/><circle cx="1063.7" cy="1115.6" r="4.3"/><circle cx="1068.2" cy="1114.1" r="4.3"/><circle cx="1073.4" cy="1106.7" r="4.3"/><circle cx="1082.3" cy="1114.9" r="4.3"/><circle cx="1048.2" cy="1131.2" r="4.3"/><circle cx="1068.2" cy="1137.9" r="4.3"/><circle cx="1054.8" cy="1129.0" r="4.3"/><circle cx="1109.3" cy="997.8" r="4.3"/><circle cx="1137.4" cy="1009.6" r="4.3"/><circle cx="1126.3" cy="1018.5" r="4.3"/><circle cx="1118.2" cy="1025.6" r="4.3"/><circle cx="1109.3" cy="1027.8" r="4.3"/><circle cx="1107.0" cy="1034.5" r="4.3"/><circle cx="1098.2" cy="1037.4" r="4.3"/><circle cx="1098.9" cy="1044.9" r="4.3"/><circle cx="1114.5" cy="1046.3" r="4.3"/><circle cx="1119.7" cy="1046.3" r="4.3"/><circle cx="1123.4" cy="1028.5" r="4.3"/><circle cx="1128.5" cy="1027.1" r="4.3"/><circle cx="1121.1" cy="1036.0" r="4.3"/><circle cx="1130.0" cy="1038.2" r="4.3"/><circle cx="1134.5" cy="1031.5" r="4.3"/><circle cx="1140.4" cy="1039.7" r="4.3"/><circle cx="1146.3" cy="1031.5" r="4.3"/><circle cx="1141.9" cy="1022.6" r="4.3"/><circle cx="1138.2" cy="1019.7" r="4.3"/><circle cx="1149.3" cy="1025.6" r="4.3"/><circle cx="1152.3" cy="1021.1" r="4.3"/><circle cx="1156.7" cy="1014.5" r="4.3"/><circle cx="1150.8" cy="1014.5" r="4.3"/><circle cx="1149.3" cy="1009.3" r="4.3"/><circle cx="1151.5" cy="1003.3" r="4.3"/><circle cx="1156.7" cy="998.9" r="4.3"/><circle cx="1161.2" cy="994.4" r="4.3"/><circle cx="1165.6" cy="991.5" r="4.3"/><circle cx="1171.5" cy="994.4" r="4.3"/><circle cx="1174.5" cy="1001.1" r="4.3"/><circle cx="1180.4" cy="1003.3" r="4.3"/><circle cx="1181.9" cy="993.0" r="4.3"/><circle cx="1164.1" cy="1004.8" r="4.3"/><circle cx="1168.6" cy="1007.0" r="4.3"/><circle cx="1177.5" cy="997.4" r="4.3"/><circle cx="1091.5" cy="1055.2" r="4.3"/><circle cx="1095.9" cy="1053.0" r="4.3"/><circle cx="1101.9" cy="1049.3" r="4.3"/><circle cx="1093.0" cy="1061.2" r="4.3"/><circle cx="1100.4" cy="1058.2" r="4.3"/><circle cx="1106.3" cy="1060.4" r="4.3"/><circle cx="1109.3" cy="1070.1" r="4.3"/><circle cx="1101.1" cy="1079.0" r="4.3"/><circle cx="1094.4" cy="1082.7" r="4.3"/><circle cx="1104.8" cy="1064.9" r="4.3"/><circle cx="1091.5" cy="1086.4" r="4.3"/><circle cx="1180.4" cy="917.1" r="4.3"/><circle cx="1177.6" cy="965.0" r="4.3"/><circle cx="1179.5" cy="963.4" r="4.3"/><circle cx="1183.5" cy="965.2" r="4.3"/><circle cx="1190.9" cy="966.0" r="4.3"/><circle cx="1193.6" cy="967.2" r="4.3"/><circle cx="1194.1" cy="970.7" r="4.3"/><circle cx="1194.1" cy="974.6" r="4.3"/><circle cx="1193.0" cy="978.8" r="4.3"/><circle cx="1191.4" cy="982.6" r="4.3"/><circle cx="1182.6" cy="985.5" r="4.3"/><circle cx="1181.9" cy="990.0" r="4.3"/><circle cx="1178.2" cy="992.9" r="4.3"/><circle cx="1181.3" cy="1001.5" r="4.3"/><circle cx="1181.0" cy="1002.5" r="4.3"/><circle cx="1178.3" cy="1003.0" r="4.3"/><circle cx="1173.8" cy="1004.5" r="4.3"/><circle cx="1169.8" cy="1005.2" r="4.3"/><circle cx="1165.7" cy="1005.9" r="4.3"/><circle cx="1158.1" cy="1009.2" r="4.3"/><circle cx="1158.9" cy="1012.9" r="4.3"/><circle cx="1153.0" cy="1016.6" r="4.3"/><circle cx="1150.6" cy="1021.8" r="4.3"/><circle cx="1145.5" cy="1026.3" r="4.3"/><circle cx="1145.9" cy="1030.9" r="4.3"/><circle cx="1144.0" cy="1031.5" r="4.3"/><circle cx="1142.7" cy="1033.6" r="4.3"/><circle cx="1143.7" cy="1031.1" r="4.3"/><circle cx="1143.9" cy="1027.9" r="4.3"/><circle cx="1143.9" cy="1023.7" r="4.3"/><circle cx="1143.9" cy="1019.4" r="4.3"/><circle cx="1143.9" cy="1015.2" r="4.3"/><circle cx="1143.4" cy="1012.9" r="4.3"/><circle cx="1141.9" cy="1010.1" r="4.3"/><circle cx="1145.9" cy="1013.6" r="4.3"/><circle cx="1150.8" cy="1004.9" r="4.3"/><circle cx="1153.9" cy="1001.3" r="4.3"/><circle cx="1159.7" cy="995.3" r="4.3"/><circle cx="1162.6" cy="989.4" r="4.3"/><circle cx="1165.7" cy="985.7" r="4.3"/><circle cx="1170.8" cy="980.5" r="4.3"/><circle cx="1170.4" cy="977.3" r="4.3"/><circle cx="1174.5" cy="973.1" r="4.3"/><circle cx="1176.0" cy="970.1" r="4.3"/></g>
<line x1="866.4" y1="1299.5" x2="1249.6" y2="916.2" stroke="#0072bd" stroke-width="2"/>
<rect x="1024.6" y="1175.6" width="300.5" height="114.5" fill="#fff" stroke="#262626" stroke-width="1"/>
<g fill="#ff0000"><circle cx="1053.3" cy="1191.8" r="4.1"/></g>
<g fill="#0000ff"><circle cx="1053.3" cy="1219.4" r="4.1"/></g>
<g fill="#000"><circle cx="1053.3" cy="1248.1" r="4.1"/></g>
<line x1="1029.2" y1="1275.7" x2="1077.4" y2="1275.7" stroke="#0072bd" stroke-width="2"/>
<text x="1082.3" y="1199.9" font-size="22.4" text-anchor="start" fill="#000" >Average (Analytical)</text>
<text x="1082.3" y="1227.7" font-size="22.4" text-anchor="start" fill="#000" >Minimum (Analytical)</text>
<text x="1082.3" y="1256.0" font-size="22.4" text-anchor="start" fill="#000" >CNN</text>
<text x="1082.3" y="1283.6" font-size="22.4" text-anchor="start" fill="#000" >Perfect prediction (FEA)</text>
</svg>
</body></html>
